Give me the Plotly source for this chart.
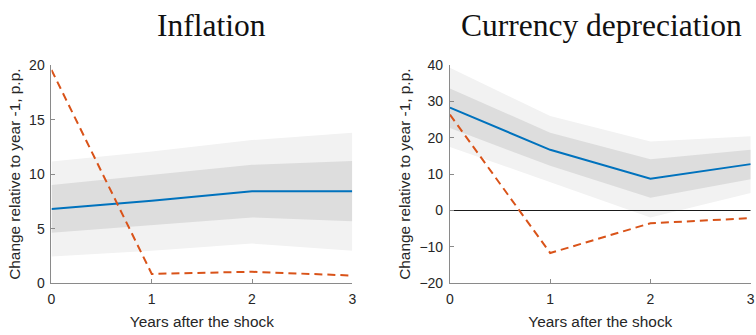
import plotly.graph_objects as go

# Horizon (years after the shock)
years = [0, 1, 2, 3]

# Inflation: model response, confidence bands and actual path
infl_mean = [6.81, 7.57, 8.44, 8.44]
infl_inner_lo = [4.63, 5.30, 6.03, 5.68]
infl_inner_hi = [9.00, 9.90, 10.86, 11.20]
infl_outer_lo = [2.45, 2.97, 3.64, 2.97]
infl_outer_hi = [11.15, 12.08, 13.13, 13.80]
infl_actual = [19.56, 0.85, 1.05, 0.70]

# Currency depreciation: model response, confidence bands and actual path
fx_mean = [28.3, 16.7, 8.75, 12.76]
fx_inner_lo = [22.7, 12.3, 3.5, 8.6]
fx_inner_hi = [33.6, 21.4, 14.1, 16.7]
fx_outer_lo = [17.5, 7.7, -1.9, 4.8]
fx_outer_hi = [39.3, 26.0, 19.0, 20.4]
fx_actual = [26.4, -11.7, -3.5, -2.1]

titles = ["Inflation", "Currency depreciation"]
y_ranges = [[0, 20], [-20, 40]]
y_ticks = [[0, 5, 10, 15, 20], [-20, -10, 0, 10, 20, 30, 40]]

W, H = 756, 335
BLUE = "#0072BD"
ORANGE = "#D95319"
LIGHT = "#f2f2f2"
DARK = "#dddddd"
AX = "#8a8a8a"
TXT = "#262626"

fig = go.Figure()

panels = [
    (infl_mean, infl_inner_lo, infl_inner_hi, infl_outer_lo, infl_outer_hi, infl_actual),
    (fx_mean, fx_inner_lo, fx_inner_hi, fx_outer_lo, fx_outer_hi, fx_actual),
]

for i, (mean, ilo, ihi, olo, ohi, actual) in enumerate(panels):
    xa = "x" if i == 0 else "x2"
    ya = "y" if i == 0 else "y2"
    common = dict(xaxis=xa, yaxis=ya, showlegend=False, hoverinfo="skip")
    fig.add_trace(go.Scatter(x=years, y=olo, mode="lines", line=dict(width=0), **common))
    fig.add_trace(go.Scatter(x=years, y=ohi, mode="lines", line=dict(width=0),
                             fill="tonexty", fillcolor=LIGHT, **common))
    fig.add_trace(go.Scatter(x=years, y=ilo, mode="lines", line=dict(width=0), **common))
    fig.add_trace(go.Scatter(x=years, y=ihi, mode="lines", line=dict(width=0),
                             fill="tonexty", fillcolor=DARK, **common))
    if i == 1:
        fig.add_trace(go.Scatter(x=[0, 3], y=[0, 0], mode="lines",
                                 line=dict(color="#1a1a1a", width=1.2), **common))
    fig.add_trace(go.Scatter(x=years, y=mean, mode="lines",
                             line=dict(color=BLUE, width=2), **common))
    fig.add_trace(go.Scatter(x=years, y=actual, mode="lines",
                             line=dict(color=ORANGE, width=2, dash="8px,5px"), **common))

x_domains = [[48 / W, 352 / W], [450.7 / W, 754.7 / W]]
y_domain = [1 - 289 / H, 1 - 60 / H]

axis_font = dict(family="Liberation Sans, Arial, sans-serif", size=14, color=TXT)
title_font = dict(family="Liberation Sans, Arial, sans-serif", size=15.4, color=TXT)

layout = dict(
    width=W, height=H,
    margin=dict(l=0, r=0, t=0, b=0),
    paper_bgcolor="white", plot_bgcolor="white",
)
for i in range(2):
    sx = "" if i == 0 else "2"
    layout["xaxis" + sx] = dict(
        domain=x_domains[i], range=[0, 3], tickvals=[0, 1, 2, 3],
        showgrid=False, zeroline=False, showline=True, linecolor=AX, linewidth=1,
        ticks="inside", ticklen=4, tickcolor=AX, tickfont=axis_font,
        ticklabelstandoff=3,
        title=dict(text="Years after the shock", font=title_font, standoff=10),
        anchor="y" + sx,
    )
    layout["yaxis" + sx] = dict(
        domain=y_domain, range=y_ranges[i], tickvals=y_ticks[i],
        showgrid=False, zeroline=False, showline=True, linecolor=AX, linewidth=1,
        ticks="inside", ticklen=4, tickcolor=AX, tickfont=axis_font,
        ticklabelstandoff=3,
        title=dict(text="Change relative to year -1, p.p.", font=title_font, standoff=4),
        anchor="x" + sx,
    )

fig.update_layout(**layout)

title_x = [210 / W, 604 / W]
for i, t in enumerate(titles):
    fig.add_annotation(
        text=t, xref="paper", yref="paper", x=title_x[i], y=1 - 18 / H,
        xanchor="center", yanchor="middle", showarrow=False,
        font=dict(family="Liberation Serif, Times New Roman, serif", size=31.5, color="#111111"),
    )

fig.write_html("out.html")
